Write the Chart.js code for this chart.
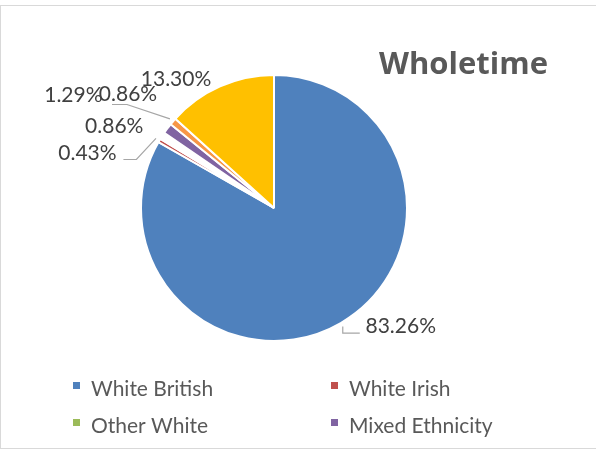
<!DOCTYPE html>
<html>
<head>
<meta charset="utf-8">
<script src="https://cdn.jsdelivr.net/npm/chart.js@4.4.1/dist/chart.umd.min.js"></script>
<style>
  body { margin: 0; background: #fff; }
  #wrap { position: relative; width: 596px; height: 450px; overflow: hidden; }
  #frame { position: absolute; left: 0; top: 5px; width: 620px; height: 442px; border: 1px solid #d9d9d9; }
  #chart { position: absolute; left: 0; top: 0; }
</style>
</head>
<body>
<div id="wrap">
  <div id="frame"></div>
  <canvas id="chart" width="596" height="450"></canvas>
</div>
<script>
// Categories and values (percent), clockwise from 12 o'clock
const categories = ["White British", "White Irish", "Other White", "Mixed Ethnicity", "Other Ethnicity", "Not Known"];
const values = [83.26, 0.43, 0.86, 1.29, 0.86, 13.30];
const valueLabels = ["83.26%", "0.43%", "0.86%", "1.29%", "0.86%", "13.30%"];
const chartTitle = "Wholetime";
const legendCount = 4; // only the first four entries fit in the legend

// Colours
const legendColors = ["#4F81BD", "#C0504D", "#9BBB59", "#8064A2", "#F79646", "#FFC000"];
// the Other White slice does not show up in the picture
const sliceColors = legendColors.map((c, i) => (i === 2 ? "#FFFFFF" : c));

// Data labels with leader lines, placed relative to the slice edge
const labelPlugin = {
  id: "pieLabels",
  afterDatasetsDraw(chart, args, opts) {
    const ctx = chart.ctx;
    const meta = chart.getDatasetMeta(0);
    ctx.save();
    ctx.font = "21px Lato";
    ctx.fillStyle = "#404040";
    ctx.textAlign = "center";
    ctx.textBaseline = "alphabetic";
    meta.data.forEach((arc, i) => {
      const p = opts.place[i];
      const a = (arc.startAngle + arc.endAngle) / 2;
      const ex = arc.x + Math.cos(a) * arc.outerRadius;
      const ey = arc.y + Math.sin(a) * arc.outerRadius;
      if (p.leader) {
        ctx.strokeStyle = "#A6A6A6";
        ctx.lineWidth = 1.2;
        ctx.beginPath();
        p.leader.forEach((q, k) => {
          if (k === 0) ctx.moveTo(ex + q[0], ey + q[1]);
          else ctx.lineTo(ex + q[0], ey + q[1]);
        });
        ctx.lineTo(ex + Math.cos(a) * 4, ey + Math.sin(a) * 4);
        ctx.stroke();
      }
      ctx.fillText(valueLabels[i], ex + p.dx, ey + p.dy);
    });
    ctx.restore();
  }
};

// Title and two-column legend
const decorPlugin = {
  id: "decor",
  afterDraw(chart) {
    const ctx = chart.ctx;
    ctx.save();
    ctx.fillStyle = "#595959";
    ctx.font = "bold 31px 'Open Sans'";
    ctx.textAlign = "right";
    ctx.textBaseline = "alphabetic";
    ctx.fillText(chartTitle, 548, 74);

    ctx.font = "21px Lato";
    ctx.textAlign = "left";
    for (let i = 0; i < legendCount; i++) {
      const col = i % 2;
      const row = Math.floor(i / 2);
      const x = col === 0 ? 73 : 331;
      const y = 396 + row * 37;
      ctx.fillStyle = legendColors[i];
      ctx.fillRect(x, y - 14, 7, 7);
      ctx.fillStyle = "#595959";
      ctx.fillText(categories[i], x + 18, y);
    }
    ctx.restore();
  }
};

new Chart(document.getElementById("chart"), {
  type: "pie",
  data: {
    labels: categories,
    datasets: [{
      data: values,
      backgroundColor: sliceColors,
      borderColor: "#FFFFFF",
      borderWidth: 2,
      hoverOffset: 0
    }]
  },
  options: {
    responsive: false,
    animation: false,
    events: [],
    radius: 133,
    layout: { padding: { left: 0, right: 48, top: 0, bottom: 34 } },
    plugins: {
      legend: { display: false },
      tooltip: { enabled: false },
      pieLabels: {
        place: [
          { dx: 60, dy: 10, leader: [[19, 10], [2, 10]] },
          { dx: -72, dy: 20, leader: [[-36, 19], [-23, 19]] },
          { dx: -48, dy: -3 },
          { dx: -94, dy: -27 },
          { dx: -45, dy: -20, leader: [[-61, -17], [-46, -17]] },
          { dx: -44, dy: 0 }
        ]
      }
    }
  },
  plugins: [labelPlugin, decorPlugin]
});
</script>
</body>
</html>
